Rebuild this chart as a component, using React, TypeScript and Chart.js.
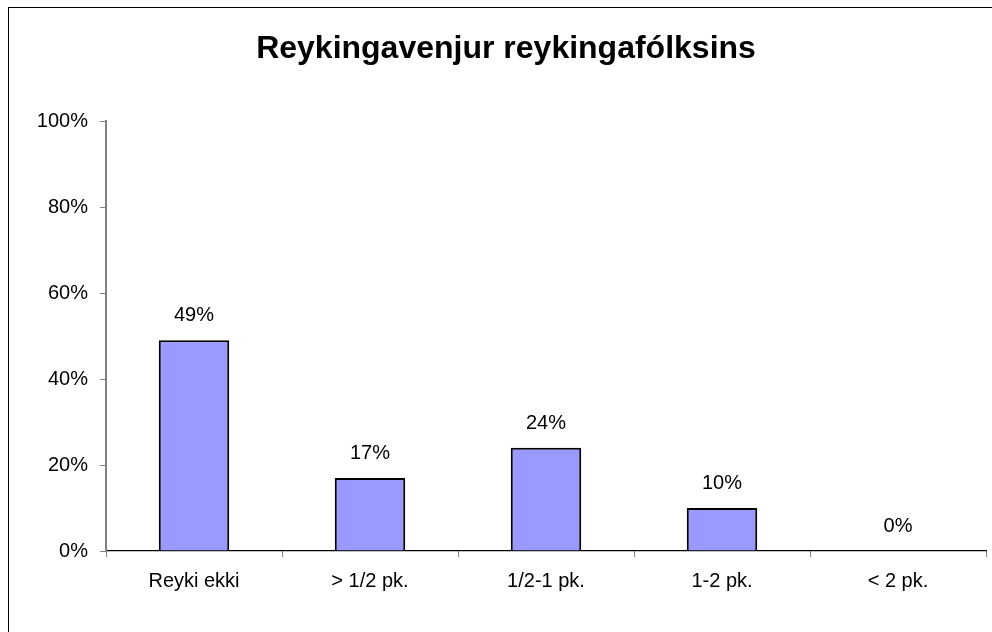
import React, { useEffect, useRef } from "react";
import { Chart, registerables } from "chart.js";

Chart.register(...registerables);

const title = "Reykingavenjur reykingafólksins";
const categories = ["Reyki ekki", "> 1/2 pk.", "1/2-1 pk.", "1-2 pk.", "< 2 pk."];
const values = [49, 17, 24, 10, 0];
const yMin = 0;
const yMax = 100;
const yStep = 20;

const FONT = "'Liberation Sans', Arial, Helvetica, sans-serif";

const valueLabels = {
  id: "valueLabels",
  afterDatasetsDraw(chart: any) {
    const ctx = chart.ctx;
    const meta = chart.getDatasetMeta(0);
    const data = chart.data.datasets[0].data as number[];
    ctx.save();
    ctx.font = `20px ${FONT}`;
    ctx.fillStyle = "#000";
    ctx.textAlign = "center";
    ctx.textBaseline = "alphabetic";
    meta.data.forEach((el: any, i: number) => {
      ctx.fillText(`${data[i]}%`, el.x, el.y - 19);
    });
    ctx.restore();
  },
};

export default function App() {
  const ref = useRef<HTMLCanvasElement | null>(null);
  useEffect(() => {
    if (!ref.current) return;
    const chart = new Chart(ref.current, {
      type: "bar",
      data: {
        labels: categories,
        datasets: [
          {
            data: values,
            backgroundColor: "#9999FF",
            borderColor: "#000000",
            borderWidth: 2,
            barPercentage: 0.4,
            categoryPercentage: 1,
          },
        ],
      },
      options: {
        animation: false,
        responsive: false,
        maintainAspectRatio: false,
        layout: { padding: { left: 26, right: 6, top: 0, bottom: 0 } },
        plugins: {
          legend: { display: false },
          tooltip: { enabled: false },
          title: {
            display: true,
            text: title,
            color: "#000",
            font: { family: FONT, size: 32, weight: "bold" },
            padding: { top: 30, bottom: 52.6 },
          },
        },
        scales: {
          x: {
            afterFit(scale: any) {
              scale.height = 81;
            },
            grid: {
              display: true,
              drawOnChartArea: false,
              drawTicks: true,
              tickLength: 6,
              color: "#808080",
              offset: true,
            },
            border: { display: true, color: "#000", width: 1.2 },
            ticks: {
              color: "#000",
              font: { family: FONT, size: 20 },
              padding: 12,
              maxRotation: 0,
            },
          },
          y: {
            min: yMin,
            max: yMax,
            afterFit(scale: any) {
              scale.width = 80;
            },
            grid: {
              display: true,
              drawOnChartArea: false,
              drawTicks: true,
              tickLength: 6,
              color: "#808080",
            },
            border: { display: true, color: "#808080", width: 2 },
            ticks: {
              stepSize: yStep,
              color: "#000",
              font: { family: FONT, size: 20 },
              padding: 12,
              callback: (v: any) => `${v}%`,
            },
          },
        },
      },
      plugins: [valueLabels],
    } as any);
    return () => chart.destroy();
  }, []);

  return (
    <div style={{ position: "fixed", left: 0, top: 0, width: 992, height: 632, background: "#fff", overflow: "hidden" }}>
      <canvas ref={ref} width={992} height={632} style={{ position: "absolute", left: 0, top: 0, width: 992, height: 632 }} />
      <div
        style={{
          position: "absolute",
          left: 8,
          top: 7,
          width: 1100,
          height: 800,
          borderLeft: "1.5px solid #000",
          borderTop: "1.5px solid #000",
          pointerEvents: "none",
        }}
      />
    </div>
  );
}
